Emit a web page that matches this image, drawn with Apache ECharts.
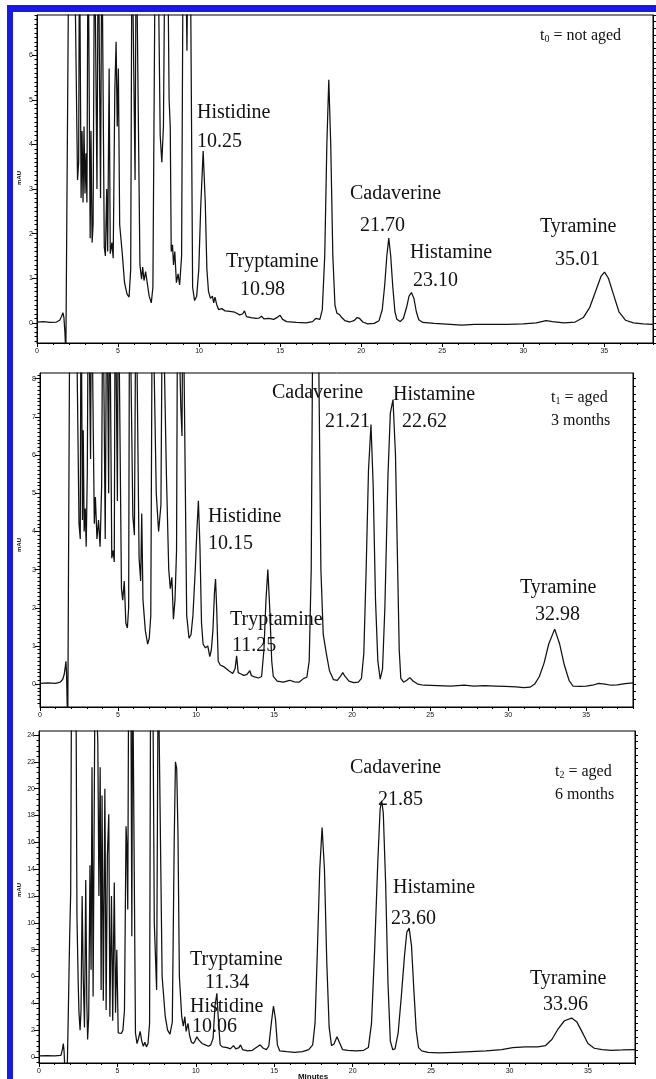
<!DOCTYPE html>
<html>
<head>
<meta charset="utf-8">
<script src="https://cdn.jsdelivr.net/npm/echarts@6/dist/echarts.min.js"></script>
<style>
html,body{margin:0;padding:0;background:#fff;overflow:hidden}
#c{width:656px;height:1079px}
</style>
</head>
<body>
<div id="c"></div>
<script>
// Chromatogram traces: [retention time (min), absorbance (mAU)]
const traceNotAged = [
  [0,0.02],[0.4,0.03],[0.8,0.01],[1.2,0.02],[1.4,0.06],[1.52,0.15],[1.6,0.23],[1.66,0.12],[1.72,-0.2],[1.78,-0.7],[1.9,-0.7],
  [1.97,9],[2.1,9],[2.3,9],[2.5,3.2],[2.57,3.6],[2.62,9],[2.66,9],[2.72,2.8],[2.78,4.3],[2.84,2.7],[2.9,4.4],[2.96,2.9],[3.02,3.8],[3.08,2.7],
  [3.15,9],[3.22,9],[3.28,1.9],[3.33,4.3],[3.4,1.8],[3.46,2.2],[3.55,9],[3.62,9],[3.7,3.0],[3.78,9],[3.86,9],[3.92,2.8],[4.0,9],[4.08,9],
  [4.15,1.7],[4.22,1.5],[4.3,3.0],[4.36,1.6],[4.45,5.7],[4.52,1.55],[4.62,1.8],[4.7,1.45],[4.8,5.2],[4.88,6.3],[4.95,4.4],[5.02,5.7],
  [5.1,2.2],[5.25,1.6],[5.4,0.9],[5.55,0.65],[5.68,0.58],[5.78,1.2],[5.86,9],[5.95,9],[6.05,3.2],[6.12,9],[6.22,9],[6.35,1.3],
  [6.45,0.98],[6.52,1.25],[6.6,0.95],[6.7,1.15],[6.8,0.9],[6.92,0.6],[7.05,0.45],[7.15,0.8],[7.3,9],[7.45,9],[7.6,4.2],[7.7,3.6],
  [7.8,4.4],[7.9,9],[8.05,9],[8.15,5.0],[8.22,4.4],[8.28,1.6],[8.36,1.75],[8.42,1.3],[8.5,1.6],[8.6,0.9],[8.7,1.1],[8.8,0.85],[8.92,1.5],
  [9.02,9],[9.15,9],[9.25,6.1],[9.32,9],[9.45,9],[9.6,0.8],[9.72,0.5],[9.85,0.6],[9.98,1.2],[10.1,2.6],[10.25,3.85],[10.38,2.7],
  [10.48,1.2],[10.58,0.7],[10.7,0.55],[10.82,0.6],[10.9,0.45],[10.98,0.58],[11.08,0.42],[11.2,0.3],[11.4,0.32],[11.6,0.27],[11.9,0.26],
  [12.2,0.24],[12.5,0.18],[12.68,0.2],[12.8,0.27],[12.92,0.14],[13.2,0.12],[13.5,0.1],[13.7,0.11],[13.85,0.15],[14.0,0.09],[14.3,0.1],
  [14.6,0.08],[14.85,0.13],[15.0,0.17],[15.15,0.08],[15.4,0.03],[16.0,0.01],[16.6,0.0],[17.0,0.03],[17.2,0.1],[17.3,0.13],[17.45,0.08],
  [17.6,0.3],[17.75,1.5],[17.88,4.0],[18.0,5.45],[18.12,4.0],[18.25,1.5],[18.38,0.4],[18.5,0.22],[18.65,0.19],[18.8,0.12],[19.0,0.05],
  [19.3,0.02],[19.55,0.05],[19.75,0.12],[19.9,0.1],[20.1,0.02],[20.4,-0.02],[20.8,-0.01],[21.1,0.05],[21.3,0.3],[21.45,0.85],[21.58,1.5],
  [21.7,1.9],[21.82,1.5],[21.95,0.8],[22.08,0.25],[22.2,0.08],[22.4,0.03],[22.6,0.1],[22.8,0.35],[22.95,0.6],[23.1,0.68],[23.25,0.55],
  [23.4,0.25],[23.55,0.07],[23.8,0.01],[24.5,-0.01],[25.5,-0.03],[26.2,-0.05],[27.0,-0.03],[28.0,-0.03],[29.0,-0.03],[30.0,-0.02],
  [30.8,0.0],[31.4,0.05],[31.8,0.03],[32.5,0.0],[33.2,0.02],[33.7,0.12],[34.1,0.35],[34.5,0.75],[34.8,1.05],[35.01,1.14],[35.25,1.0],
  [35.55,0.65],[35.9,0.25],[36.3,0.06],[36.8,0.0],[37.4,-0.02],[38,-0.03]
];

const traceAged3 = [
  [0,0.02],[0.5,0.03],[1.0,0.02],[1.3,0.05],[1.45,0.12],[1.55,0.25],[1.62,0.45],[1.66,0.6],[1.7,0.3],[1.74,-0.5],[1.78,-1],[1.88,-1],
  [1.92,11],[2.1,11],[2.3,11],[2.5,4.2],[2.58,3.8],[2.63,11],[2.68,11],[2.72,4.3],[2.77,6.65],[2.83,4.0],[2.9,4.6],[2.96,3.6],[3.03,5.5],
  [3.1,11],[3.18,11],[3.24,5.9],[3.3,11],[3.36,11],[3.42,6.4],[3.48,4.2],[3.55,4.9],[3.65,3.8],[3.75,4.3],[3.85,3.6],[3.95,5.2],
  [4.03,11],[4.1,11],[4.18,3.8],[4.28,11],[4.34,11],[4.4,5.0],[4.46,11],[4.52,11],[4.6,3.3],[4.68,3.5],[4.76,3.2],[4.82,11],[4.9,11],
  [4.96,4.8],[5.02,11],[5.1,11],[5.22,2.5],[5.3,2.2],[5.4,2.7],[5.5,1.6],[5.6,1.47],[5.68,2.0],[5.74,11],[5.82,11],[5.95,4.4],[6.05,3.9],
  [6.15,11],[6.25,11],[6.35,3.3],[6.45,2.7],[6.52,4.47],[6.6,2.2],[6.75,1.4],[6.9,1.05],[7.0,1.2],[7.1,1.8],[7.2,11],[7.32,11],
  [7.45,5.0],[7.6,4.0],[7.75,4.7],[7.85,11],[7.97,11],[8.1,5.5],[8.25,3.0],[8.35,2.5],[8.45,2.8],[8.55,1.7],[8.65,2.2],[8.75,3.5],
  [8.82,11],[8.92,11],[9.02,7.3],[9.1,6.5],[9.16,11],[9.26,11],[9.4,1.8],[9.55,1.2],[9.68,1.3],[9.8,1.8],[9.95,3.0],[10.05,4.0],
  [10.15,4.8],[10.25,3.6],[10.35,1.6],[10.45,1.05],[10.6,0.95],[10.75,1.0],[10.88,0.72],[10.98,0.9],[11.08,1.4],[11.18,2.4],[11.25,2.75],
  [11.32,2.0],[11.42,0.6],[11.55,0.5],[11.8,0.45],[12.1,0.35],[12.35,0.28],[12.5,0.4],[12.6,0.74],[12.7,0.3],[12.85,0.27],[13.05,0.23],
  [13.25,0.25],[13.45,0.35],[13.55,0.22],[13.8,0.18],[14.0,0.16],[14.2,0.2],[14.35,0.9],[14.48,2.2],[14.6,3.0],[14.72,2.0],[14.85,0.6],
  [14.95,0.2],[15.2,0.08],[15.6,0.05],[16.0,0.1],[16.3,0.06],[16.6,0.05],[16.9,0.15],[17.1,0.18],[17.25,0.6],[17.38,3.0],[17.5,11],
  [17.8,11],[18.0,3.0],[18.15,1.3],[18.35,0.8],[18.55,0.35],[18.8,0.12],[19.05,0.1],[19.25,0.2],[19.4,0.3],[19.55,0.2],[19.8,0.08],
  [20.1,0.04],[20.4,0.05],[20.6,0.15],[20.75,0.8],[20.9,3.0],[21.05,5.6],[21.21,6.8],[21.35,5.2],[21.5,2.2],[21.65,0.6],[21.8,0.13],
  [21.95,0.4],[22.1,2.0],[22.3,5.5],[22.45,7.1],[22.62,7.45],[22.78,6.0],[22.92,3.0],[23.02,0.9],[23.12,0.15],[23.3,0.05],[23.5,0.1],
  [23.7,0.17],[23.9,0.08],[24.2,0.0],[24.6,-0.03],[25.5,-0.04],[26.3,-0.05],[27.2,-0.03],[27.8,-0.05],[28.5,-0.04],[29.2,-0.05],
  [29.8,-0.06],[30.5,-0.07],[31.0,-0.09],[31.4,-0.08],[31.7,0.0],[32.0,0.2],[32.3,0.55],[32.6,1.05],[32.98,1.44],[33.3,1.05],[33.6,0.5],
  [33.9,0.1],[34.15,-0.05],[34.6,-0.06],[35.0,-0.05],[35.4,-0.03],[35.8,0.02],[36.2,0.0],[36.6,-0.03],[37.0,-0.02],[37.5,0.01],[38.0,0.03]
];

const traceAged6 = [
  [0,0.08],[0.5,0.1],[1.0,0.09],[1.4,0.12],[1.5,0.6],[1.55,1.0],[1.6,0.4],[1.65,-1],[1.8,-1],
  [1.88,4],[1.95,8.7],[2.02,12.2],[2.08,30],[2.2,30],[2.35,30],[2.42,10.5],[2.5,5.5],[2.55,3.3],[2.62,2.0],[2.68,3.5],[2.75,12],
  [2.82,6],[2.9,2.2],[2.98,13.2],[3.05,4.0],[3.1,1.3],[3.17,3.0],[3.25,14.3],[3.32,6.5],[3.38,21.6],[3.45,4.5],[3.52,18.2],[3.58,30],
  [3.7,30],[3.75,23.4],[3.82,12],[3.9,21.6],[3.96,5.0],[4.02,19.5],[4.1,4.2],[4.2,20.0],[4.28,3.5],[4.36,15],[4.45,18.1],[4.52,3.0],
  [4.62,12],[4.7,2.7],[4.8,13.0],[4.88,3.3],[4.96,8],[5.05,1.8],[5.15,1.9],[5.25,1.75],[5.35,2.0],[5.45,3.5],[5.55,17.2],[5.6,15.8],
  [5.66,11],[5.72,30],[5.85,30],[5.92,9],[5.97,30],[6.05,30],[6.15,1.8],[6.25,1.0],[6.35,1.4],[6.45,1.9],[6.55,1.2],[6.65,0.8],
  [6.75,1.1],[6.85,0.75],[6.95,1.0],[7.05,2.5],[7.12,30],[7.25,30],[7.35,10],[7.5,5],[7.6,30],[7.72,30],[7.85,6],[8.05,3.0],[8.2,2.0],
  [8.35,1.7],[8.5,2.6],[8.62,16.0],[8.7,22.0],[8.78,21.5],[8.86,16.7],[8.95,6],[9.1,3.0],[9.2,2.3],[9.3,3.0],[9.38,1.9],[9.5,2.5],
  [9.6,1.6],[9.72,1.1],[9.85,1.0],[9.95,1.2],[10.06,1.5],[10.2,1.25],[10.4,1.0],[10.6,0.9],[10.8,0.8],[10.95,0.9],[11.1,1.4],[11.22,3.8],
  [11.34,4.75],[11.45,2.5],[11.55,0.9],[11.7,0.75],[12.0,0.7],[12.2,0.6],[12.4,0.85],[12.55,0.6],[12.75,0.7],[12.85,0.9],[12.98,0.55],
  [13.3,0.45],[13.6,0.5],[13.9,0.75],[14.1,0.9],[14.3,0.65],[14.5,0.55],[14.65,0.8],[14.82,2.6],[14.95,3.8],[15.08,2.8],[15.2,0.9],
  [15.35,0.45],[15.8,0.4],[16.3,0.35],[16.8,0.4],[17.2,0.55],[17.45,0.9],[17.6,2.5],[17.75,8],[17.9,14],[18.05,17.1],[18.2,14],[18.35,7],
  [18.5,2.2],[18.65,0.85],[18.8,0.95],[19.0,1.5],[19.15,1.1],[19.35,0.55],[19.7,0.5],[20.2,0.45],[20.7,0.5],[21.0,0.7],[21.2,2.5],
  [21.4,8],[21.6,14.5],[21.75,18.5],[21.85,19.1],[21.95,18.2],[22.1,13],[22.25,5.5],[22.4,1.2],[22.55,0.55],[22.7,0.6],[22.9,1.8],
  [23.1,4.5],[23.3,7.5],[23.45,9.3],[23.6,9.6],[23.75,8.3],[23.9,5.0],[24.05,2.0],[24.2,0.7],[24.4,0.45],[24.8,0.35],[25.5,0.3],
  [26.5,0.35],[27.5,0.4],[28.5,0.45],[29.5,0.55],[30.2,0.7],[31.0,0.75],[31.8,0.75],[32.3,0.85],[32.7,1.3],[33.1,2.1],[33.5,2.7],
  [33.96,2.9],[34.3,2.6],[34.7,1.7],[35.0,1.0],[35.4,0.65],[35.9,0.55],[36.5,0.5],[37.2,0.52],[38.0,0.55]
];

// Identified peaks: [compound, retention time (min)]
const peaksNotAged = [['Histidine',10.25],['Tryptamine',10.98],['Cadaverine',21.70],['Histamine',23.10],['Tyramine',35.01]];
const peaksAged3   = [['Histidine',10.15],['Tryptamine',11.25],['Cadaverine',21.21],['Histamine',22.62],['Tyramine',32.98]];
const peaksAged6   = [['Histidine',10.06],['Tryptamine',11.34],['Cadaverine',21.85],['Histamine',23.60],['Tyramine',33.96]];

// Sample captions: [label, subscript, description lines]
const sampleNotAged = ['t', '0', ['= not aged']];
const sampleAged3   = ['t', '1', ['= aged', '3 months']];
const sampleAged6   = ['t', '2', ['= aged', '6 months']];

// Axis tick labels
const timeTicks = [0, 5, 10, 15, 20, 25, 30, 35];
const mauTicksNotAged = [0, 1, 2, 3, 4, 5, 6];
const mauTicksAged3   = [0, 1, 2, 3, 4, 5, 6, 7, 8];
const mauTicksAged6   = [0, 2, 4, 6, 8, 10, 12, 14, 16, 18, 20, 22, 24];

// ---- layout & styling ----
const FONT_TICK = '"Liberation Sans", Arial, sans-serif';
const FONT_NOTE = '"Liberation Serif", "Times New Roman", serif';
const INK = '#111';

const panels = [
  { trace: traceNotAged, peaks: peaksNotAged, sample: sampleNotAged, ticks: mauTicksNotAged,
    grid: { left: 37, top: 15, width: 616, height: 328 }, yMin: -0.45, yMax: 6.9, minorStep: 0.1, rightStep: 0.15,
    mauY: 178, samplePos: [540, 36],
    spots: [[197,113,197,142],[226,262,240,290],[350,194,360,226],[410,253,413,281],[540,227,555,260]] },
  { trace: traceAged3, peaks: peaksAged3, sample: sampleAged3, ticks: mauTicksAged3,
    grid: { left: 40, top: 373, width: 593, height: 334 }, yMin: -0.6, yMax: 8.15, minorStep: 0.1, rightStep: 0.2,
    mauY: 545, samplePos: [551, 398],
    spots: [[208,517,208,544],[230,620,232,646],[272,393,325,422],[393,395,402,422],[520,588,535,615]] },
  { trace: traceAged6, peaks: peaksAged6, sample: sampleAged6, ticks: mauTicksAged6,
    grid: { left: 39, top: 731, width: 596, height: 332 }, yMin: -0.45, yMax: 24.3, minorStep: 0.4, rightStep: 0.5,
    mauY: 890, samplePos: [555, 772],
    spots: [[190,1007,192,1027],[190,960,205,983],[350,768,378,800],[393,888,391,919],[530,979,543,1005]] }
];

function steps(min, max, step) {
  const out = [];
  for (let v = Math.ceil(min / step) * step; v <= max + 1e-9; v += step) out.push(+v.toFixed(4));
  return out;
}

const grids = [], xAxes = [], yAxes = [], series = [], graphics = [];

panels.forEach((p, i) => {
  grids.push(Object.assign({ show: true, borderColor: '#000', borderWidth: 1, backgroundColor: 'transparent' }, p.grid));

  // time axis: labelled major ticks + one-minute minor ticks
  xAxes.push({
    gridIndex: i, type: 'value', min: 0, max: 38, position: 'bottom',
    axisLine: { show: true, onZero: false, lineStyle: { color: '#000', width: 1 } },
    axisTick: { show: true, length: 4, customValues: timeTicks, lineStyle: { color: '#000' } },
    axisLabel: { show: true, customValues: timeTicks, fontSize: 7, fontFamily: FONT_TICK, color: '#111', margin: 5 },
    splitLine: { show: false }
  });
  xAxes.push({
    gridIndex: i, type: 'value', min: 0, max: 38, position: 'bottom',
    axisLine: { show: false, onZero: false },
    axisTick: { show: true, length: 2, customValues: steps(0, 38, 1), lineStyle: { color: '#000' } },
    axisLabel: { show: false }, splitLine: { show: false }
  });

  // absorbance axis: labelled left, minor left, ticked right edge
  yAxes.push({
    gridIndex: i, type: 'value', min: p.yMin, max: p.yMax, position: 'left',
    axisLine: { show: true, onZero: false, lineStyle: { color: '#000', width: 1 } },
    axisTick: { show: true, length: 5, customValues: p.ticks, lineStyle: { color: '#000' } },
    axisLabel: { show: true, customValues: p.ticks, fontSize: 7, fontFamily: FONT_TICK, color: '#111', margin: 4 },
    splitLine: { show: false }
  });
  yAxes.push({
    gridIndex: i, type: 'value', min: p.yMin, max: p.yMax, position: 'left',
    axisLine: { show: false, onZero: false },
    axisTick: { show: true, length: 2.5, customValues: steps(p.yMin, p.yMax, p.minorStep), lineStyle: { color: '#000' } },
    axisLabel: { show: false }, splitLine: { show: false }
  });
  yAxes.push({
    gridIndex: i, type: 'value', min: p.yMin, max: p.yMax, position: 'right',
    axisLine: { show: true, onZero: false, lineStyle: { color: '#000', width: 1 } },
    axisTick: { show: true, length: 3, customValues: steps(p.yMin, p.yMax, p.rightStep), lineStyle: { color: '#000' } },
    axisLabel: { show: false }, splitLine: { show: false }
  });

  series.push({
    type: 'line', xAxisIndex: i * 2, yAxisIndex: i * 3, data: p.trace,
    showSymbol: false, symbol: 'none', smooth: false, clip: true, silent: true,
    lineStyle: { color: INK, width: 1.25 }
  });

  // compound names with retention times
  p.peaks.forEach(([name, rt], k) => {
    const s = p.spots[k];
    graphics.push({ type: 'text', x: s[0], y: s[1], silent: true,
      style: { text: name, font: '20px ' + FONT_NOTE, fill: INK, verticalAlign: 'middle' } });
    graphics.push({ type: 'text', x: s[2], y: s[3], silent: true,
      style: { text: rt.toFixed(2), font: '20px ' + FONT_NOTE, fill: INK, verticalAlign: 'middle' } });
  });

  // sample caption
  const [lab, sub, lines] = p.sample;
  graphics.push({ type: 'text', x: p.samplePos[0], y: p.samplePos[1], silent: true,
    style: {
      text: '{t|' + lab + '}{s|' + sub + '}{t| ' + lines[0] + '}',
      verticalAlign: 'middle',
      rich: {
        t: { fontFamily: FONT_NOTE, fontSize: 16, fill: INK, color: INK },
        s: { fontFamily: FONT_NOTE, fontSize: 10, fill: INK, color: INK, verticalAlign: 'bottom', padding: [6, 0, 0, 0] }
      }
    } });
  if (lines[1]) {
    graphics.push({ type: 'text', x: p.samplePos[0], y: p.samplePos[1] + 23, silent: true,
      style: { text: lines[1], font: '16px ' + FONT_NOTE, fill: INK, verticalAlign: 'middle' } });
  }

  // unit label
  graphics.push({ type: 'text', x: 19, y: p.mauY, rotation: Math.PI / 2, silent: true,
    style: { text: 'mAU', font: 'bold 6px ' + FONT_TICK, fill: '#111', align: 'center', verticalAlign: 'middle' } });
});

// axis title under the last panel
graphics.push({ type: 'text', x: 313, y: 1073, silent: true,
  style: { text: 'Minutes', font: 'bold 8px ' + FONT_TICK, fill: '#111', align: 'center', verticalAlign: 'top' } });

// blue page frame (top and left edges)
graphics.push({ type: 'rect', shape: { x: 7, y: 5, width: 649, height: 7 }, style: { fill: '#1818e8' }, silent: true, z: 10 });
graphics.push({ type: 'rect', shape: { x: 7, y: 5, width: 6, height: 1074 }, style: { fill: '#1818e8' }, silent: true, z: 10 });

const chart = echarts.init(document.getElementById('c'), null, { renderer: 'canvas' });
chart.setOption({
  animation: false,
  backgroundColor: '#fff',
  grid: grids,
  xAxis: xAxes,
  yAxis: yAxes,
  series: series,
  graphic: graphics
});
</script>
</body>
</html>
